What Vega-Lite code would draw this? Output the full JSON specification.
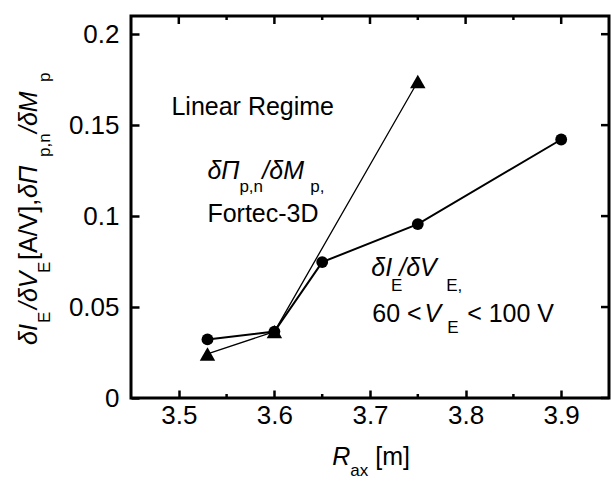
{
  "$schema": "https://vega.github.io/schema/vega-lite/v6.json",
  "width": 478,
  "height": 382,
  "autosize": {"type": "none"},
  "padding": {"left": 131, "top": 16, "right": 2, "bottom": 93},
  "background": "white",
  "config": {
    "view": {"stroke": "black", "strokeWidth": 3},
    "font": "Liberation Sans",
    "axis": {
      "grid": false,
      "domain": false,
      "labelColor": "black",
      "labelFont": "Liberation Sans",
      "labelFontSize": 26,
      "title": null
    },
    "text": {"font": "Liberation Sans", "color": "black"}
  },
  "datasets": {
    "circ": [
      {"R": 3.53, "v": 0.0322},
      {"R": 3.6, "v": 0.0365},
      {"R": 3.65, "v": 0.0747},
      {"R": 3.75, "v": 0.0956},
      {"R": 3.9, "v": 0.1421}
    ],
    "tri": [
      {"R": 3.53, "v": 0.0242},
      {"R": 3.6, "v": 0.0365},
      {"R": 3.75, "v": 0.174}
    ],
    "xMajor": [{"R": 3.5}, {"R": 3.6}, {"R": 3.7}, {"R": 3.8}, {"R": 3.9}],
    "xMinor": [{"R": 3.55}, {"R": 3.65}, {"R": 3.75}, {"R": 3.85}],
    "yMajor": [{"v": 0}, {"v": 0.05}, {"v": 0.1}, {"v": 0.15}, {"v": 0.2}],
    "hReg": [
      {"x": 3.4923, "y": 0.1556, "t": "Linear Regime"},
      {"x": 3.5299, "y": 0.0969, "t": "Fortec-3D"},
      {"x": 3.7024, "y": 0.0419, "t": "60 <"},
      {"x": 3.8016, "y": 0.0419, "t": "< 100 V"},
      {"x": 3.7055, "y": -0.0368, "t": "[m]"}
    ],
    "hIt": [
      {"x": 3.5299, "y": 0.1204, "t": "δΠ"},
      {"x": 3.5874, "y": 0.1204, "t": "/δM"},
      {"x": 3.7013, "y": 0.0671, "t": "δI"},
      {"x": 3.7306, "y": 0.0671, "t": "/δV"},
      {"x": 3.757, "y": 0.0419, "t": "V"},
      {"x": 3.6606, "y": -0.0368, "t": "R"}
    ],
    "hSub": [
      {"x": 3.5634, "y": 0.1132, "t": "p,n"},
      {"x": 3.6376, "y": 0.1132, "t": "p,"},
      {"x": 3.722, "y": 0.059, "t": "E"},
      {"x": 3.7797, "y": 0.059, "t": "E,"},
      {"x": 3.7807, "y": 0.0357, "t": "E"},
      {"x": 3.6794, "y": -0.0429, "t": "ax"}
    ],
    "yIt": [
      {"x": 3.3518, "y": 0.02914, "t": "δI"},
      {"x": 3.3518, "y": 0.04893, "t": "/δV"},
      {"x": 3.3518, "y": 0.10995, "t": "δΠ"},
      {"x": 3.3518, "y": 0.14568, "t": "/δM"}
    ],
    "yReg": [
      {"x": 3.3518, "y": 0.07587, "t": "[A/V],"}
    ],
    "ySub": [
      {"x": 3.3648, "y": 0.04123, "t": "E"},
      {"x": 3.3648, "y": 0.06872, "t": "E"},
      {"x": 3.3648, "y": 0.13249, "t": "p,n"},
      {"x": 3.3648, "y": 0.17372, "t": "p"}
    ]
  },
  "encoding": {
    "x": {"type": "quantitative", "scale": {"domain": [3.45, 3.95], "nice": false, "zero": false}},
    "y": {"type": "quantitative", "scale": {"domain": [0, 0.21], "nice": false, "zero": false}}
  },
  "layer": [
    {
      "data": {"name": "circ"},
      "mark": {"type": "line", "color": "black", "strokeWidth": 2},
      "encoding": {
        "x": {"field": "R", "type": "quantitative",
              "axis": {"orient": "bottom", "values": [3.5, 3.6, 3.7, 3.8, 3.9], "format": ".1f", "ticks": true, "tickSize": -8, "tickWidth": 2.5, "tickColor": "black", "tickOpacity": 1, "labelPadding": 12}},
        "y": {"field": "v", "type": "quantitative",
              "axis": {"orient": "left", "values": [0, 0.05, 0.1, 0.15, 0.2], "format": "~g", "ticks": true, "tickSize": -8, "tickWidth": 2.5, "tickColor": "black", "tickOpacity": 1, "labelPadding": 20}}
      }
    },
    {
      "data": {"name": "circ"},
      "mark": {"type": "point", "shape": "circle", "filled": true, "color": "black", "opacity": 1, "size": 140},
      "encoding": {
        "x": {"field": "R", "type": "quantitative"},
        "y": {"field": "v", "type": "quantitative"}
      }
    },
    {
      "data": {"name": "tri"},
      "mark": {"type": "line", "color": "black", "strokeWidth": 1.3},
      "encoding": {
        "x": {"field": "R", "type": "quantitative"},
        "y": {"field": "v", "type": "quantitative"}
      }
    },
    {
      "data": {"name": "tri"},
      "mark": {"type": "point", "shape": "triangle-up", "filled": true, "color": "black", "opacity": 1, "size": 240},
      "encoding": {
        "x": {"field": "R", "type": "quantitative"},
        "y": {"field": "v", "type": "quantitative"}
      }
    },
    {
      "data": {"name": "xMajor"},
      "mark": {"type": "rule", "color": "black", "strokeWidth": 2.5},
      "encoding": {
        "x": {"field": "R", "type": "quantitative"},
        "y": {"datum": 0.2056},
        "y2": {"datum": 0.21}
      }
    },
    {
      "data": {"name": "xMinor"},
      "mark": {"type": "rule", "color": "black", "strokeWidth": 2.5},
      "encoding": {
        "x": {"field": "R", "type": "quantitative"},
        "y": {"datum": 0},
        "y2": {"datum": 0.0022}
      }
    },
    {
      "data": {"name": "xMinor"},
      "mark": {"type": "rule", "color": "black", "strokeWidth": 2.5},
      "encoding": {
        "x": {"field": "R", "type": "quantitative"},
        "y": {"datum": 0.2078},
        "y2": {"datum": 0.21}
      }
    },
    {
      "data": {"name": "yMajor"},
      "mark": {"type": "rule", "color": "black", "strokeWidth": 2.5},
      "encoding": {
        "y": {"field": "v", "type": "quantitative"},
        "x": {"datum": 3.9416},
        "x2": {"datum": 3.95}
      }
    },
    {
      "data": {"name": "hReg"},
      "mark": {"type": "text", "align": "left", "baseline": "alphabetic", "fontSize": 25, "color": "black"},
      "encoding": {
        "x": {"field": "x", "type": "quantitative"},
        "y": {"field": "y", "type": "quantitative"},
        "text": {"field": "t"}
      }
    },
    {
      "data": {"name": "hIt"},
      "mark": {"type": "text", "align": "left", "baseline": "alphabetic", "fontSize": 25, "fontStyle": "italic", "color": "black"},
      "encoding": {
        "x": {"field": "x", "type": "quantitative"},
        "y": {"field": "y", "type": "quantitative"},
        "text": {"field": "t"}
      }
    },
    {
      "data": {"name": "hSub"},
      "mark": {"type": "text", "align": "left", "baseline": "alphabetic", "fontSize": 17, "color": "black"},
      "encoding": {
        "x": {"field": "x", "type": "quantitative"},
        "y": {"field": "y", "type": "quantitative"},
        "text": {"field": "t"}
      }
    },
    {
      "data": {"name": "yIt"},
      "mark": {"type": "text", "align": "left", "baseline": "alphabetic", "angle": 270, "fontSize": 25, "fontStyle": "italic", "color": "black"},
      "encoding": {
        "x": {"field": "x", "type": "quantitative"},
        "y": {"field": "y", "type": "quantitative"},
        "text": {"field": "t"}
      }
    },
    {
      "data": {"name": "yReg"},
      "mark": {"type": "text", "align": "left", "baseline": "alphabetic", "angle": 270, "fontSize": 25, "color": "black"},
      "encoding": {
        "x": {"field": "x", "type": "quantitative"},
        "y": {"field": "y", "type": "quantitative"},
        "text": {"field": "t"}
      }
    },
    {
      "data": {"name": "ySub"},
      "mark": {"type": "text", "align": "left", "baseline": "alphabetic", "angle": 270, "fontSize": 17, "color": "black"},
      "encoding": {
        "x": {"field": "x", "type": "quantitative"},
        "y": {"field": "y", "type": "quantitative"},
        "text": {"field": "t"}
      }
    }
  ]
}
